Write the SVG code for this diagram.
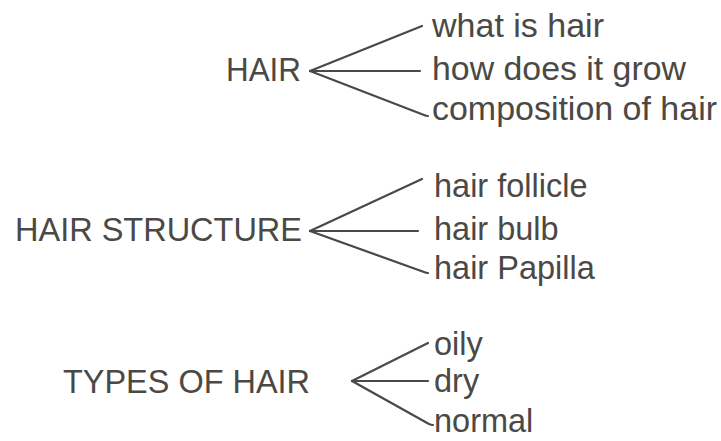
<svg xmlns="http://www.w3.org/2000/svg" width="721" height="441" viewBox="0 0 721 441">
<style>
text{font-family:"Liberation Sans",Arial,Helvetica,sans-serif;font-size:32.5px;fill:#4b4845}
.w{font-size:33px}
.c path{fill:none;stroke:#4b4845;stroke-width:2.2;stroke-linecap:round;stroke-linejoin:round}
</style>
<rect width="721" height="441" fill="#ffffff"/>
<g class="c" id="connectors">
<path d="M310,71 L422,26"/>
<path d="M310,71 L420,71"/>
<path d="M310,71 L424,115 Q426,116 428,116"/>
<path d="M310,231 L422,179"/>
<path d="M310,231 L418,231"/>
<path d="M310,231 L424,272 Q426,273 428,273"/>
<path d="M352,381 L428,343"/>
<path d="M352,381 L428,381"/>
<path d="M352,381 L429,424 Q431,425 433,425"/>
</g>
<g id="hair"><text x="226" y="81" textLength="75" lengthAdjust="spacingAndGlyphs">HAIR</text></g>
<g id="what-is-hair"><text class="w" x="432" y="37" textLength="172" lengthAdjust="spacingAndGlyphs">what is hair</text></g>
<g id="how-does-it-grow"><text class="w" x="432" y="80" textLength="254" lengthAdjust="spacingAndGlyphs">how does it grow</text></g>
<g id="composition-of-hair"><text class="w" x="432" y="120" textLength="285" lengthAdjust="spacingAndGlyphs">composition of hair</text></g>
<g id="hair-structure"><text x="15" y="241" textLength="287" lengthAdjust="spacingAndGlyphs">HAIR STRUCTURE</text></g>
<g id="hair-follicle"><text x="434" y="197">hair follicle</text></g>
<g id="hair-bulb"><text x="434" y="240">hair bulb</text></g>
<g id="hair-papilla"><text x="434" y="279">hair Papilla</text></g>
<g id="types-of-hair"><text x="63" y="393" textLength="247" lengthAdjust="spacingAndGlyphs">TYPES OF HAIR</text></g>
<g id="oily"><text x="434" y="355">oily</text></g>
<g id="dry"><text x="434" y="392">dry</text></g>
<g id="normal"><text x="434" y="432">normal</text></g>
</svg>
